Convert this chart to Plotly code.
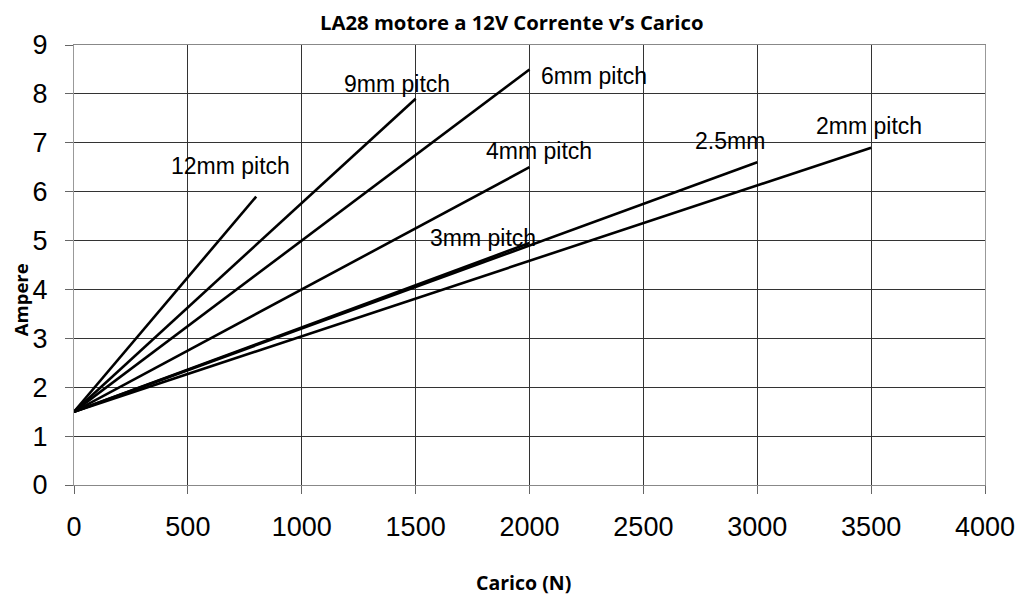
import plotly.graph_objects as go

# Series data: load (N) vs current (A)
pitch_names = ["12mm pitch", "9mm pitch", "6mm pitch", "4mm pitch", "3mm pitch", "2.5mm", "2mm pitch"]
load_12mm = [0, 800]
amp_12mm = [1.5, 5.9]
load_9mm = [0, 1500]
amp_9mm = [1.5, 7.9]
load_6mm = [0, 2000]
amp_6mm = [1.5, 8.5]
load_4mm = [0, 2000]
amp_4mm = [1.5, 6.5]
load_3mm = [0, 2000]
amp_3mm = [1.5, 4.95]
load_25mm = [0, 3000]
amp_25mm = [1.5, 6.6]
load_2mm = [0, 3500]
amp_2mm = [1.5, 6.9]

# label anchor positions (data coords)
label_x = [686, 1419, 2284, 2043, 1795, 2881, 3491]
label_y = [6.52, 8.2, 8.36, 6.83, 5.05, 7.03, 7.34]

x_ticks = [0, 500, 1000, 1500, 2000, 2500, 3000, 3500, 4000]
y_ticks = [0, 1, 2, 3, 4, 5, 6, 7, 8, 9]

series = [
    (load_12mm, amp_12mm),
    (load_9mm, amp_9mm),
    (load_6mm, amp_6mm),
    (load_4mm, amp_4mm),
    (load_3mm, amp_3mm),
    (load_25mm, amp_25mm),
    (load_2mm, amp_2mm),
]

fig = go.Figure()
for name, (xs, ys) in zip(pitch_names, series):
    fig.add_trace(go.Scatter(x=xs, y=ys, mode="lines", name=name,
                             line=dict(color="black", width=2.6), showlegend=False))

for name, lx, ly in zip(pitch_names, label_x, label_y):
    fig.add_annotation(x=lx, y=ly, xref="x", yref="y", text=name, showarrow=False,
                       font=dict(family="Liberation Sans, Arial", size=23, color="black"))

fig.add_annotation(x=0.48, y=1, xref="paper", yref="paper", yshift=23, yanchor="middle",
                   text="<b>LA28 motore a 12V Corrente v’s Carico</b>", showarrow=False,
                   font=dict(family="Open Sans", size=20.3, color="black"))
fig.add_annotation(x=0.493, y=0, xref="paper", yref="paper", yshift=-97, yanchor="middle",
                   text="<b>Carico (N)</b>", showarrow=False,
                   font=dict(family="Open Sans", size=19.5, color="black"))
fig.add_annotation(x=0, y=0.42, xref="paper", yref="paper", xshift=-54, xanchor="center",
                   text="<b>Ampere</b>", showarrow=False, textangle=-90,
                   font=dict(family="Open Sans", size=18.5, color="black"))

fig.update_layout(
    width=1023, height=587,
    margin=dict(l=66, r=46, t=37, b=110),
    plot_bgcolor="white", paper_bgcolor="white",
    font=dict(family="Liberation Sans, Arial", color="black"),
)
fig.update_xaxes(range=[0, 4000], tickvals=x_ticks, ticktext=[str(v) for v in x_ticks],
                 showgrid=True, gridcolor="#333", gridwidth=1,
                 showline=True, linecolor="#888", linewidth=1, mirror=True,
                 ticks="outside", ticklen=8, tickcolor="#666",
                 tickfont=dict(size=27), ticklabelstandoff=10, zeroline=False)
fig.update_yaxes(range=[0, 9], tickvals=y_ticks, ticktext=[str(v) for v in y_ticks],
                 showgrid=True, gridcolor="#333", gridwidth=1,
                 showline=True, linecolor="#999", linewidth=1, mirror=True,
                 ticks="outside", ticklen=8, tickcolor="#666",
                 tickfont=dict(size=27), ticklabelstandoff=12, zeroline=False)

fig.write_html("out.html")
